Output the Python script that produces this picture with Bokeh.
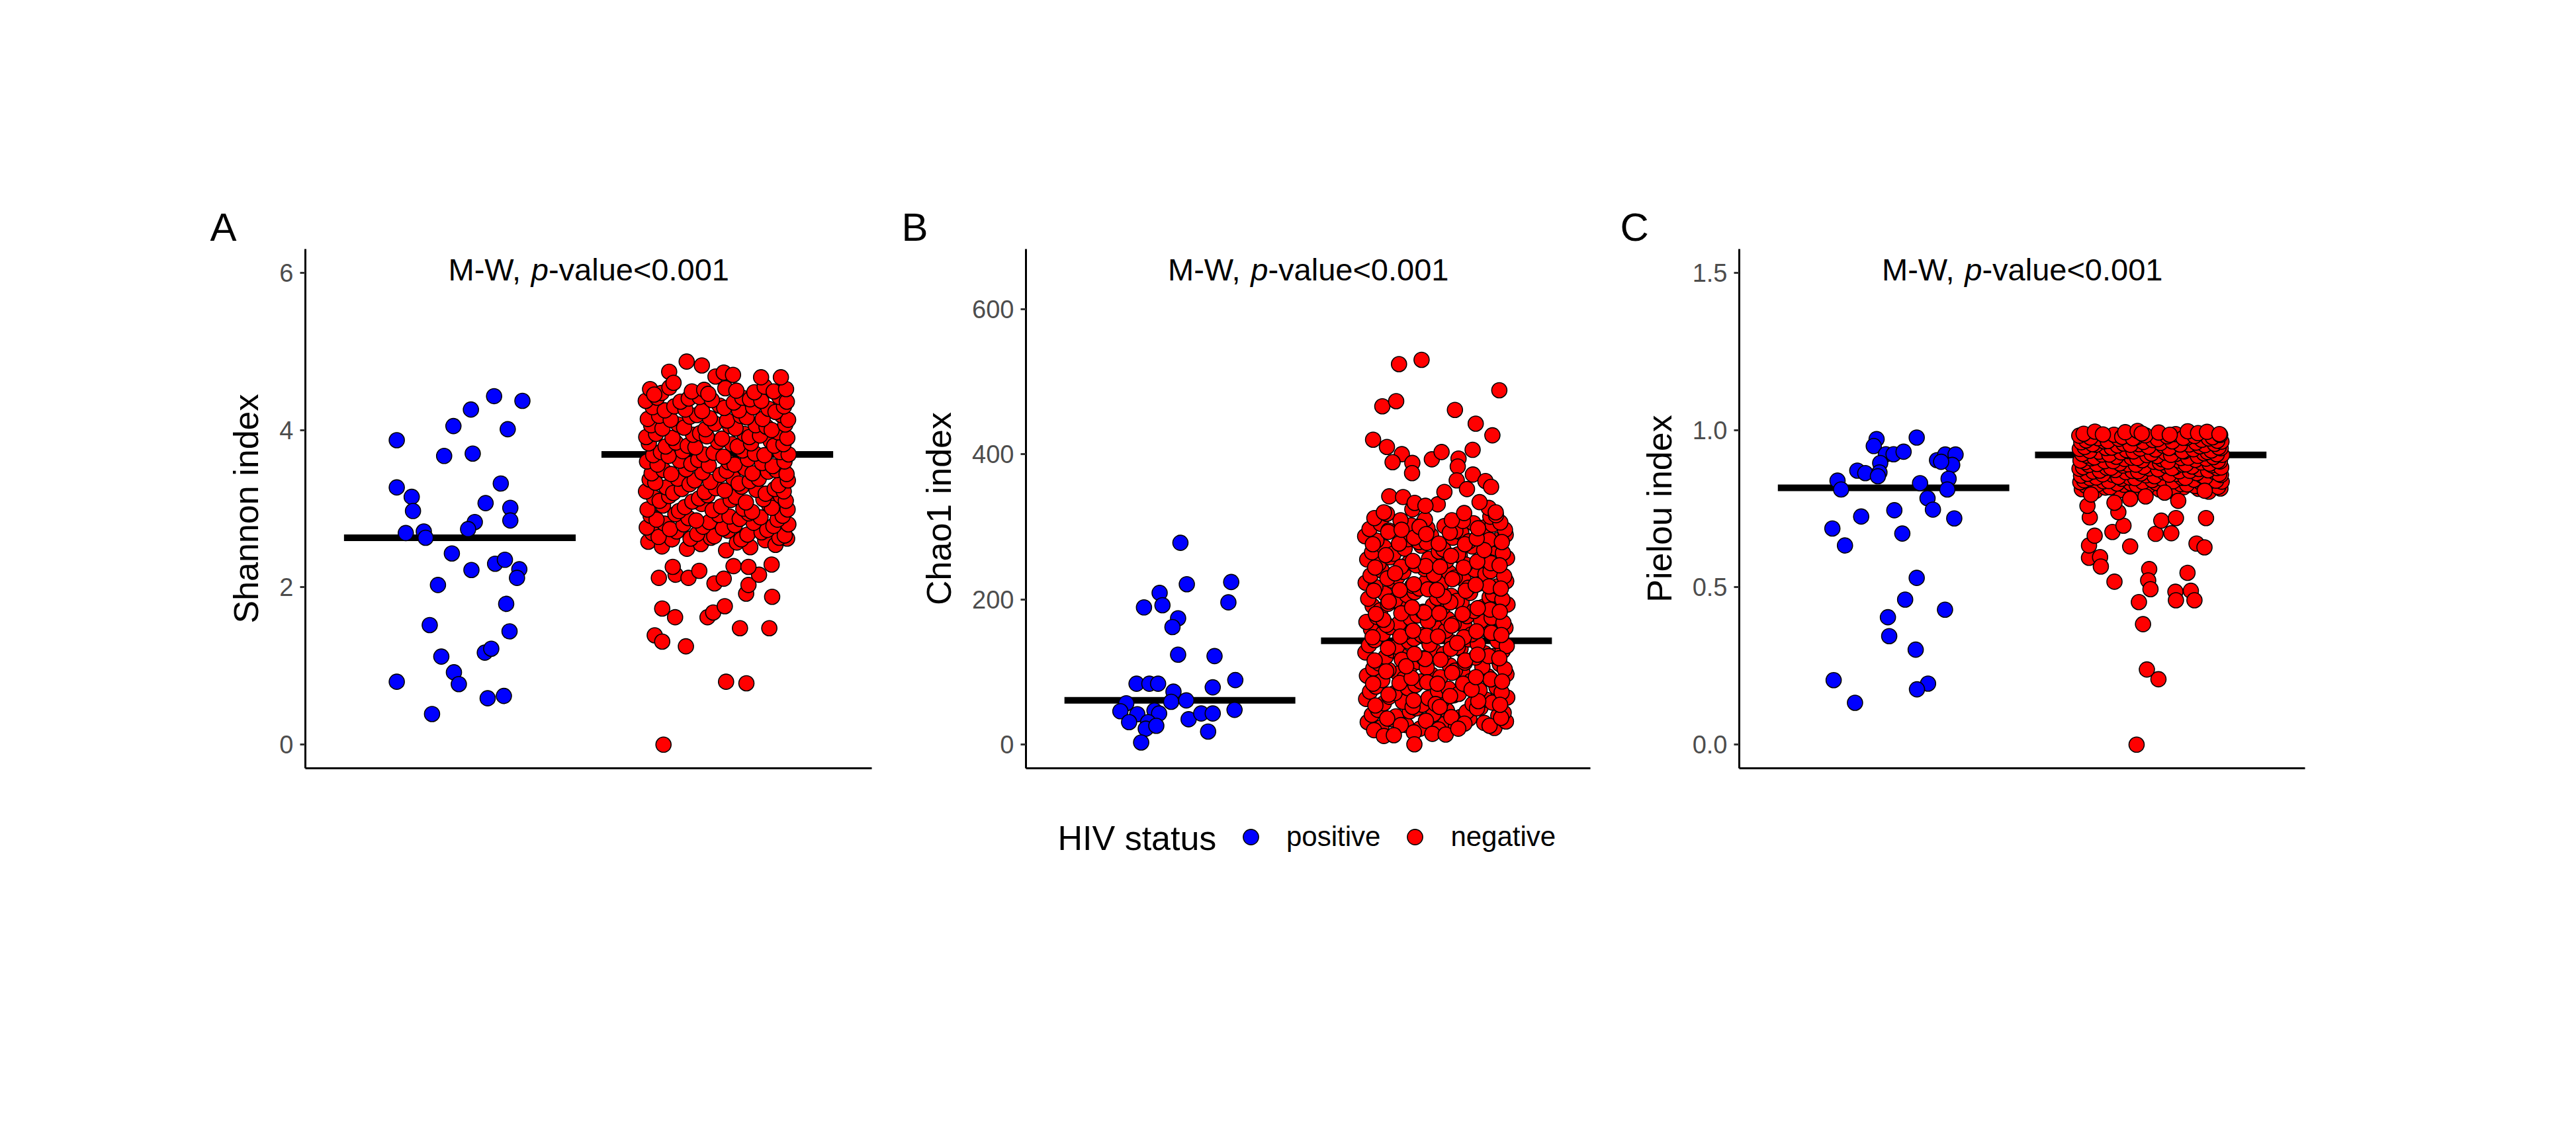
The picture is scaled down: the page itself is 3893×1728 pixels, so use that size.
from bokeh.plotting import figure
from bokeh.models import Range1d, FixedTicker, Label, Legend, LegendItem, NumeralTickFormatter
from bokeh.layouts import row, column
from bokeh.embed import file_html
from bokeh.resources import INLINE

FONT = "Liberation Sans"

# ---------------- data ----------------
categories = ["positive", "negative"]
panel_letters = ["A", "B", "C"]
y_titles = ["Shannon index", "Chao1 index", "Pielou index"]
y_ticks = [[0, 2, 4, 6], [0, 200, 400, 600], [0.0, 0.5, 1.0, 1.5]]
y_tick_formats = ["0", "0", "0.0"]
y_limits = [(0, 6), (0, 650), (0, 1.5)]
test_text = ["M-W, ", "p", "-value<0.001"]
medians_pos = [2.63, 61, 0.816]
medians_neg = [3.69, 143, 0.921]

# HIV positive (jitter offset, value)
pos_a_jit = [-0.245, -0.245, -0.187, -0.182, -0.21, -0.14, -0.133, -0.025, 0.043, -0.061, 0.05, 0.133, 0.243,
             0.186, 0.159, 0.10, 0.196, 0.196, 0.058, 0.032, -0.031, 0.045, 0.137, 0.175, 0.231, 0.222, -0.085,
             0.18, -0.117, 0.193, -0.072, 0.097, 0.122, -0.023, -0.004, -0.245, 0.108, 0.171, -0.108]
pos_a = [3.87, 3.27, 3.15, 2.97, 2.69, 2.71, 2.63, 4.05, 4.26, 3.67, 3.70, 4.43, 4.37, 4.01, 3.32, 3.07, 3.01,
         2.85, 2.83, 2.74, 2.43, 2.22, 2.30, 2.35, 2.23, 2.12, 2.03, 1.79, 1.52, 1.44, 1.12, 1.17, 1.22, 0.92,
         0.77, 0.80, 0.59, 0.62, 0.39]
pos_b_jit = [0.002, 0.027, 0.2, -0.079, -0.068, -0.14, 0.189, -0.007, -0.029, -0.007, 0.135, 0.216, -0.169,
             -0.119, -0.085, 0.128, -0.025, -0.034, 0.025, -0.209, -0.232, -0.166, -0.099, -0.081, -0.198,
             -0.124, -0.133, -0.092, 0.034, 0.083, 0.128, 0.213, 0.11, -0.151]
pos_b = [278, 221, 224, 209, 192, 189, 196, 174, 162, 124, 122, 89, 84, 84, 84, 79, 73, 59, 61, 57, 46, 42, 47,
         43, 31, 31, 22, 26, 35, 43, 43, 48, 18, 3]
pos_c_jit = [0.09, -0.066, -0.077, -0.03, 0.0, 0.039, -0.052, 0.169, 0.201, 0.241, 0.228, 0.185, -0.141, -0.11,
             -0.055, -0.061, -0.218, -0.204, 0.103, 0.214, 0.209, 0.132, 0.153, 0.003, -0.126, 0.236, -0.238,
             0.034, -0.189, 0.09, 0.045, 0.2, -0.022, -0.017, 0.086, -0.233, 0.134, 0.091, -0.15]
pos_c = [0.976, 0.971, 0.949, 0.923, 0.923, 0.931, 0.895, 0.904, 0.922, 0.922, 0.889, 0.899, 0.871, 0.863,
         0.865, 0.853, 0.839, 0.811, 0.831, 0.845, 0.811, 0.783, 0.747, 0.745, 0.725, 0.719, 0.687, 0.671,
         0.633, 0.530, 0.461, 0.429, 0.405, 0.345, 0.302, 0.205, 0.194, 0.176, 0.133]

# HIV negative, sparse points (jitter offset, value)
neg_out_a_jit = [-0.209, 0.034, 0.113, -0.243, -0.214, -0.122, 0.088, 0.202, -0.214, -0.164, -0.038, -0.016,
                 0.029, 0.112, 0.213, -0.227, -0.162, -0.112, -0.011, 0.025, 0.121, 0.162, 0.211, -0.173, -0.07,
                 0.063, 0.121, -0.119, -0.06, -0.187, -0.007, 0.025, 0.061, 0.17, 0.247, -0.17, -0.245]
neg_out_a = [0.0, 0.80, 0.78, 1.39, 1.31, 1.25, 1.48, 1.48, 1.73, 1.62, 1.62, 1.68, 1.76, 1.92, 1.88, 2.12,
             2.16, 2.12, 2.05, 2.11, 2.03, 2.16, 2.29, 2.26, 2.21, 2.27, 2.26, 4.87, 4.82, 4.74, 4.68, 4.73,
             4.70, 4.67, 4.67, 4.60, 4.45]
neg_out_b_jit = [-0.058, -0.146, 0.245, -0.211, -0.157, 0.072, 0.153, 0.218, -0.247, -0.193, -0.135, -0.171,
                 -0.094, -0.095, -0.018, 0.02, 0.086, 0.141, 0.083, 0.031, 0.079, 0.119, 0.142, 0.191, 0.213,
                 0.231, 0.168, -0.184, -0.13, -0.085, -0.043, -0.205, -0.088, -0.205, -0.166, -0.016, 0.036,
                 0.085, -0.086]
neg_out_b = [530, 524, 488, 466, 473, 461, 442, 426, 420, 410, 400, 389, 388, 374, 393, 403, 394, 406, 383, 348,
             364, 352, 372, 363, 355, 320, 334, 342, 341, 333, 329, 320, 17, 12, 13, 15, 14, 22, 0.5]
neg_out_c_jit = [-0.055, -0.015, 0.03, -0.03, -0.046, -0.006, -0.01, -0.001, -0.141, 0.096, 0.098, 0.156, 0.17,
                 0.143, -0.24, -0.197, -0.194, -0.24, -0.218, -0.08, 0.178, 0.209, 0.019, 0.08, -0.149, -0.106,
                 0.041, 0.098, 0.215, -0.237, -0.126, -0.246, -0.141, -0.232, -0.08, -0.02, 0.054, 0.107, 0.21]
neg_out_c = [0.0, 0.239, 0.208, 0.383, 0.453, 0.558, 0.522, 0.494, 0.518, 0.486, 0.459, 0.489, 0.459, 0.546,
             0.594, 0.596, 0.566, 0.633, 0.664, 0.630, 0.639, 0.627, 0.670, 0.672, 0.676, 0.696, 0.712, 0.720,
             0.720, 0.722, 0.739, 0.759, 0.769, 0.795, 0.781, 0.789, 0.801, 0.775, 0.807]

# HIV negative, dense core (shared jitter offsets, values per panel)
neg_core_jit = [
    -0.268, -0.215, -0.176, -0.118, -0.064, -0.025, 0.034, 0.076, 0.128, 0.186, 0.226, 0.271,
    -0.252, -0.228, -0.158, -0.104, -0.078, -0.012, 0.041, 0.093, 0.117, 0.172, 0.241, 0.262,
    -0.274, -0.205, -0.184, -0.131, -0.055, -0.031, 0.022, 0.068, 0.141, 0.194, 0.218, 0.276,
    -0.259, -0.236, -0.163, -0.112, -0.082, 0.006, 0.047, 0.087, 0.122, 0.168, 0.234, 0.254,
    -0.271, -0.211, -0.149, -0.126, -0.061, -0.018, 0.015, 0.101, 0.135, 0.201, 0.212, 0.273,
    -0.246, -0.224, -0.187, -0.097, -0.071, -0.038, 0.052, 0.072, 0.111, 0.179, 0.247, 0.266,
    -0.277, -0.198, -0.171, -0.138, -0.049, -0.006, 0.029, 0.094, 0.152, 0.188, 0.223, 0.258,
    -0.263, -0.241, -0.154, -0.108, -0.088, -0.027, 0.061, 0.083, 0.126, 0.161, 0.238, 0.274,
    -0.255, -0.209, -0.179, -0.121, -0.058, 0.012, 0.036, 0.109, 0.137, 0.197, 0.229, 0.269,
    -0.273, -0.232, -0.146, -0.101, -0.074, -0.033, 0.044, 0.067, 0.119, 0.174, 0.215, 0.261,
    -0.249, -0.219, -0.189, -0.134, -0.052, -0.014, 0.024, 0.098, 0.146, 0.183, 0.244, 0.277,
    -0.266, -0.201, -0.161, -0.115, -0.085, 0.003, 0.057, 0.079, 0.131, 0.207, 0.221, 0.257,
    -0.276, -0.238, -0.174, -0.094, -0.067, -0.041, 0.018, 0.105, 0.124, 0.166, 0.236, 0.272,
    -0.257, -0.213, -0.152, -0.129, -0.046, -0.009, 0.049, 0.071, 0.149, 0.191, 0.211, 0.264,
    -0.27, -0.226, -0.181, -0.106, -0.079, -0.029, 0.038, 0.091, 0.114, 0.176, 0.249, 0.275,
    -0.251, -0.204, -0.167, -0.124, -0.059, 0.009, 0.027, 0.084, 0.139, 0.199, 0.226, 0.259,
    -0.278, -0.234, -0.143, -0.111, -0.069, -0.021, 0.064, 0.097, 0.127, 0.171, 0.241, 0.27,
    -0.261, -0.217, -0.186, -0.099, -0.051, -0.035, 0.031, 0.074, 0.144, 0.184, 0.219, 0.267,
]
neg_core_a = [
    2.58, 2.52, 2.61, 2.49, 2.55, 2.63, 2.47, 2.57, 2.51, 2.60, 2.54, 2.62,
    2.69, 2.64, 2.71, 2.62, 2.68, 2.65, 2.72, 2.61, 2.67, 2.70, 2.63, 2.66,
    2.76, 2.81, 2.74, 2.80, 2.77, 2.83, 2.75, 2.79, 2.82, 2.73, 2.78, 2.80,
    2.91, 2.86, 2.93, 2.88, 2.85, 2.92, 2.90, 2.87, 2.94, 2.89, 2.86, 2.91,
    2.99, 3.04, 2.97, 3.02, 3.06, 2.98, 3.03, 3.00, 2.96, 3.05, 3.01, 2.99,
    3.14, 3.10, 3.16, 3.09, 3.13, 3.17, 3.11, 3.15, 3.08, 3.12, 3.16, 3.10,
    3.22, 3.27, 3.20, 3.25, 3.21, 3.26, 3.23, 3.28, 3.24, 3.19, 3.25, 3.22,
    3.37, 3.33, 3.38, 3.31, 3.36, 3.34, 3.39, 3.32, 3.35, 3.38, 3.30, 3.36,
    3.45, 3.49, 3.44, 3.50, 3.46, 3.43, 3.48, 3.51, 3.45, 3.47, 3.49, 3.44,
    3.60, 3.56, 3.61, 3.57, 3.62, 3.55, 3.59, 3.56, 3.63, 3.58, 3.54, 3.60,
    3.68, 3.72, 3.67, 3.73, 3.69, 3.71, 3.66, 3.74, 3.70, 3.68, 3.72, 3.69,
    3.83, 3.79, 3.84, 3.80, 3.78, 3.85, 3.82, 3.79, 3.83, 3.86, 3.80, 3.82,
    3.91, 3.95, 3.90, 3.94, 3.96, 3.92, 3.89, 3.95, 3.91, 3.93, 3.97, 3.90,
    4.06, 4.02, 4.07, 4.03, 4.01, 4.08, 4.05, 4.02, 4.06, 4.04, 4.00, 4.07,
    4.14, 4.18, 4.13, 4.17, 4.19, 4.15, 4.12, 4.18, 4.16, 4.14, 4.19, 4.13,
    4.29, 4.25, 4.30, 4.26, 4.24, 4.31, 4.28, 4.25, 4.29, 4.27, 4.23, 4.30,
    4.37, 4.41, 4.36, 4.40, 4.42, 4.38, 4.35, 4.41, 4.39, 4.37, 4.42, 4.36,
    4.52, 4.47, 4.54, 4.49, 4.51, 4.46, 4.53, 4.50, 4.48, 4.55, 4.49, 4.52,
]
neg_core_b = [
    31, 24, 35, 27, 22, 33, 29, 25, 36, 30, 23, 32,
    41, 48, 39, 46, 50, 42, 47, 38, 45, 51, 40, 44,
    63, 57, 66, 59, 55, 64, 61, 68, 56, 62, 58, 65,
    73, 80, 71, 78, 82, 74, 77, 70, 81, 75, 79, 72,
    95, 89, 98, 91, 87, 96, 93, 100, 88, 94, 90, 97,
    105, 112, 103, 110, 114, 106, 109, 102, 113, 107, 111, 104,
    127, 121, 130, 123, 119, 128, 125, 132, 120, 126, 122, 129,
    137, 144, 135, 142, 146, 138, 141, 134, 145, 139, 143, 136,
    159, 153, 162, 155, 151, 160, 157, 164, 152, 158, 154, 161,
    169, 176, 167, 174, 178, 170, 173, 166, 177, 171, 175, 168,
    191, 185, 194, 187, 183, 192, 189, 196, 184, 190, 186, 193,
    201, 208, 199, 206, 210, 202, 205, 198, 209, 203, 207, 200,
    223, 217, 226, 219, 215, 224, 221, 228, 216, 222, 218, 225,
    233, 240, 231, 238, 242, 234, 237, 230, 241, 235, 239, 232,
    255, 249, 258, 251, 247, 256, 253, 260, 248, 254, 250, 257,
    265, 272, 263, 270, 274, 266, 269, 262, 273, 267, 271, 264,
    287, 281, 290, 283, 279, 288, 285, 292, 280, 286, 282, 289,
    297, 304, 295, 302, 306, 298, 301, 294, 305, 299, 303, 296,
]
neg_core_c = [
    0.812, 0.806, 0.817, 0.809, 0.803, 0.815, 0.811, 0.807, 0.818, 0.813, 0.804, 0.814,
    0.823, 0.829, 0.818, 0.826, 0.831, 0.820, 0.825, 0.817, 0.828, 0.822, 0.830, 0.819,
    0.834, 0.828, 0.837, 0.830, 0.826, 0.835, 0.832, 0.839, 0.827, 0.833, 0.829, 0.836,
    0.840, 0.847, 0.838, 0.845, 0.849, 0.841, 0.844, 0.837, 0.848, 0.842, 0.846, 0.839,
    0.855, 0.849, 0.858, 0.851, 0.847, 0.856, 0.853, 0.860, 0.848, 0.854, 0.850, 0.857,
    0.861, 0.868, 0.859, 0.866, 0.870, 0.862, 0.865, 0.858, 0.869, 0.863, 0.867, 0.860,
    0.877, 0.871, 0.880, 0.873, 0.869, 0.878, 0.875, 0.882, 0.870, 0.876, 0.872, 0.879,
    0.882, 0.889, 0.880, 0.887, 0.891, 0.883, 0.886, 0.879, 0.890, 0.884, 0.888, 0.881,
    0.898, 0.892, 0.901, 0.894, 0.890, 0.899, 0.896, 0.903, 0.891, 0.897, 0.893, 0.900,
    0.903, 0.910, 0.901, 0.908, 0.912, 0.904, 0.907, 0.900, 0.911, 0.905, 0.909, 0.902,
    0.919, 0.913, 0.922, 0.915, 0.911, 0.920, 0.917, 0.924, 0.912, 0.918, 0.914, 0.921,
    0.924, 0.931, 0.922, 0.929, 0.933, 0.925, 0.928, 0.921, 0.932, 0.926, 0.930, 0.923,
    0.940, 0.934, 0.943, 0.936, 0.932, 0.941, 0.938, 0.945, 0.933, 0.939, 0.935, 0.942,
    0.946, 0.953, 0.944, 0.951, 0.955, 0.947, 0.950, 0.943, 0.954, 0.948, 0.952, 0.945,
    0.961, 0.955, 0.964, 0.957, 0.953, 0.962, 0.959, 0.966, 0.954, 0.960, 0.956, 0.963,
    0.967, 0.974, 0.965, 0.972, 0.976, 0.968, 0.971, 0.964, 0.975, 0.969, 0.973, 0.966,
    0.982, 0.976, 0.985, 0.978, 0.974, 0.983, 0.980, 0.987, 0.975, 0.981, 0.977, 0.984,
    0.988, 0.995, 0.986, 0.993, 0.997, 0.989, 0.992, 0.985, 0.996, 0.990, 0.994, 0.987,
]
# extra Chao1 negatives filling the dense block
neg_extra_b_jit = [
    -0.243, -0.192, -0.139, -0.093, -0.041, 0.008, 0.058, 0.109, 0.158, 0.207, 0.252, -0.003,
    -0.238, -0.187, -0.144, -0.089, -0.036, 0.013, 0.053, 0.104, 0.163, 0.211, 0.248, 0.137,
    -0.247, -0.196, -0.135, -0.097, -0.044, 0.004, 0.061, 0.112, 0.154, 0.203, 0.256, -0.118,
    -0.241, -0.189, -0.141, -0.086, -0.039, 0.016, 0.056, 0.107, 0.16, 0.214, 0.245, 0.081,
    -0.249, -0.194, -0.137, -0.091, -0.047, 0.006, 0.059, 0.102, 0.156, 0.209, 0.253, -0.207,
    -0.236, -0.186, -0.143, -0.095, -0.033, 0.011, 0.054, 0.114, 0.161, 0.205, 0.247, 0.029,
    -0.244, -0.191, -0.138, -0.088, -0.042, 0.002, 0.062, 0.106, 0.153, 0.212, 0.251, -0.161,
    -0.239, -0.197, -0.146, -0.092, -0.038, 0.014, 0.057, 0.111, 0.159, 0.206, 0.246, 0.186,
    -0.248, -0.188, -0.14, -0.087, -0.045, 0.009, 0.052, 0.103, 0.157, 0.21, 0.255, -0.066,
    -0.242, -0.193, -0.136, -0.094, -0.04, 0.005, 0.06, 0.108, 0.162, 0.204, 0.249, 0.232,
]
neg_extra_b = [
    20, 36, 27, 52, 33, 21, 38, 29, 50, 26, 37, 56,
    54, 69, 85, 61, 86, 52, 67, 84, 60, 90, 55, 76,
    84, 101, 117, 92, 118, 84, 99, 116, 93, 122, 87, 108,
    116, 133, 149, 125, 150, 117, 132, 148, 124, 154, 119, 140,
    148, 165, 181, 157, 182, 149, 164, 180, 156, 186, 151, 172,
    180, 197, 213, 189, 214, 181, 196, 212, 188, 218, 183, 204,
    212, 229, 245, 221, 246, 213, 228, 244, 220, 250, 215, 236,
    244, 261, 277, 253, 278, 245, 260, 276, 252, 282, 247, 268,
    276, 293, 309, 285, 310, 277, 292, 308, 284, 314, 279, 300,
    312, 318, 296, 324, 290, 331, 309, 319, 298, 326, 306, 316,
]

pos_vals = [pos_a, pos_b, pos_c]
pos_jits = [pos_a_jit, pos_b_jit, pos_c_jit]
neg_out_vals = [neg_out_a, neg_out_b, neg_out_c]
neg_out_jits = [neg_out_a_jit, neg_out_b_jit, neg_out_c_jit]
neg_core_vals = [neg_core_a, neg_core_b, neg_core_c]
neg_extra_vals = [[], neg_extra_b, []]
neg_extra_jits = [[], neg_extra_b_jit, []]

# ---------------- style / layout ----------------
COL_POS = "#0000FF"
COL_NEG = "#FF0000"
PT_SIZE = 23
PT_LW = 1.6
HALF_W = 0.45

fig_w = [1330, 1090, 1457]
border_l = [461, 220, 208]
border_r = [13, 17, 394]
letter_dx = [-144, -188, -180]
FIG_H = 1200
B_TOP = 376
B_BOT = 39

panels = []
for i in range(3):
    lo, hi = y_limits[i]
    pad = 0.05 * (hi - lo)
    p = figure(width=fig_w[i], height=FIG_H,
               min_border_left=border_l[i], min_border_right=border_r[i],
               min_border_top=B_TOP, min_border_bottom=B_BOT,
               x_range=Range1d(0.4, 2.6), y_range=Range1d(lo - pad, hi + pad),
               toolbar_location=None, output_backend="svg")
    p.outline_line_color = None
    p.grid.visible = False
    p.background_fill_color = "white"
    p.border_fill_color = "white"

    # panel letter as title
    p.title.text = panel_letters[i]
    p.title.align = "left"
    p.title.offset = letter_dx[i]
    p.title.standoff = 0
    p.title.text_font = FONT
    p.title.text_font_size = "60px"
    p.title.text_font_style = "normal"
    p.title.text_color = "black"

    xa = p.xaxis[0]
    xa.ticker = FixedTicker(ticks=[])
    xa.major_label_text_font_size = "0px"
    xa.major_tick_line_color = None
    xa.minor_tick_line_color = None
    xa.axis_line_width = 3
    xa.axis_line_color = "black"

    ya = p.yaxis[0]
    ya.ticker = FixedTicker(ticks=y_ticks[i])
    ya.formatter = NumeralTickFormatter(format=y_tick_formats[i])
    ya.minor_tick_line_color = None
    ya.major_tick_in = 0
    ya.major_tick_out = 8
    ya.major_tick_line_width = 3
    ya.major_tick_line_color = "#333333"
    ya.axis_line_width = 3
    ya.axis_line_color = "black"
    ya.major_label_text_font = FONT
    ya.major_label_text_font_size = "38px"
    ya.major_label_text_color = "#4D4D4D"
    ya.major_label_standoff = 10
    ya.axis_label = y_titles[i]
    ya.axis_label_text_font = FONT
    ya.axis_label_text_font_size = "52px"
    ya.axis_label_text_font_style = "normal"
    ya.axis_label_text_color = "black"
    ya.axis_label_standoff = 18

    # median bars
    centers = [1, 2]
    meds = [medians_pos[i], medians_neg[i]]
    p.segment(x0=[c - HALF_W for c in centers], x1=[c + HALF_W for c in centers],
              y0=meds, y1=meds, line_width=10, line_color="black")

    # positive
    p.scatter(x=[1 + j for j in pos_jits[i]], y=pos_vals[i], size=PT_SIZE,
              fill_color=COL_POS, line_color="black", line_width=PT_LW)
    # negative
    p.scatter(x=[2 + j for j in neg_core_jit], y=neg_core_vals[i], size=PT_SIZE,
              fill_color=COL_NEG, line_color="black", line_width=PT_LW)
    if neg_extra_vals[i]:
        p.scatter(x=[2 + j for j in neg_extra_jits[i]], y=neg_extra_vals[i], size=PT_SIZE,
                  fill_color=COL_NEG, line_color="black", line_width=PT_LW)
    p.scatter(x=[2 + j for j in neg_out_jits[i]], y=neg_out_vals[i], size=PT_SIZE,
              fill_color=COL_NEG, line_color="black", line_width=PT_LW)

    # test annotation
    top = hi + pad
    offs = [-212, -86.7, -60.6]
    styles = ["normal", "italic", "normal"]
    for t, o, s in zip(test_text, offs, styles):
        p.add_layout(Label(x=1.5, y=top, x_offset=o, y_offset=-31, text=t,
                           text_font=FONT, text_font_size="47px", text_font_style=s,
                           text_color="black", text_align="left", text_baseline="alphabetic"))
    panels.append(p)

# ---------------- legend ----------------
LEG_W = sum(fig_w)
LEG_H = 130
lg = figure(width=LEG_W, height=LEG_H, x_range=Range1d(0, LEG_W), y_range=Range1d(0, LEG_H),
            min_border=0, toolbar_location=None, output_backend="svg",
            x_axis_location=None, y_axis_location=None)
lg.outline_line_color = None
lg.grid.visible = False
r_pos = lg.scatter(x=[-100], y=[-100], size=PT_SIZE, fill_color=COL_POS, line_color="black", line_width=PT_LW)
r_neg = lg.scatter(x=[-100], y=[-100], size=PT_SIZE, fill_color=COL_NEG, line_color="black", line_width=PT_LW)
legend = Legend(items=[LegendItem(label=categories[0], renderers=[r_pos]),
                       LegendItem(label=categories[1], renderers=[r_neg])],
                orientation="horizontal", location=(1861, 36),
                glyph_width=58, glyph_height=58, label_standoff=25, spacing=23,
                padding=0, margin=0, border_line_color=None, background_fill_alpha=0,
                label_text_font=FONT, label_text_font_size="42px", label_text_color="black")
lg.add_layout(legend)
lg.add_layout(Label(x=1598, y=64, text="HIV status", text_font=FONT, text_font_size="52px",
                    text_color="black", text_align="left", text_baseline="alphabetic"))

layout = column(row(*panels), lg)
open("out.html", "w").write(file_html(layout, INLINE))
